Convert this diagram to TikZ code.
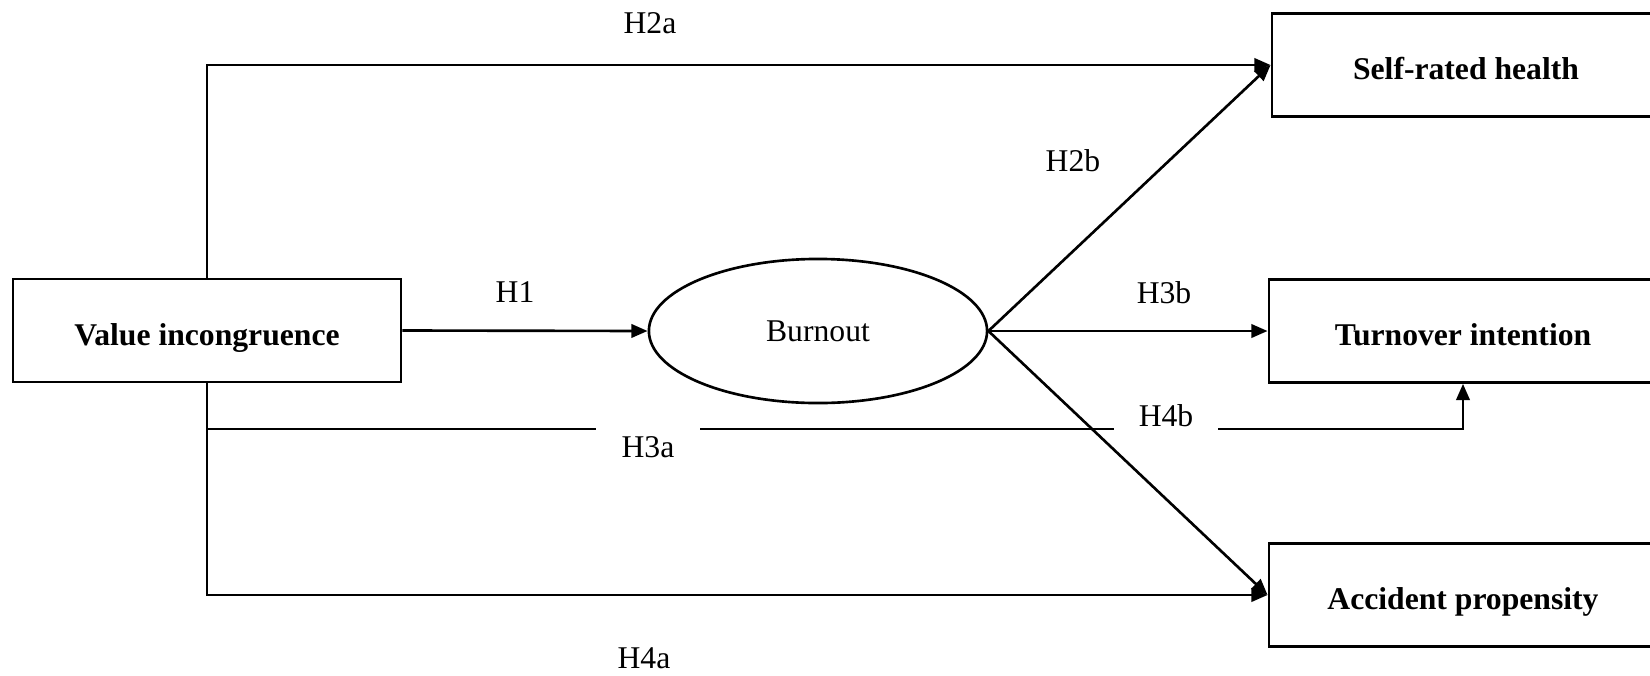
\documentclass[tikz,border=0pt]{standalone}
\usepackage{fontspec}
\setmainfont{Liberation Serif}
\usetikzlibrary{arrows.meta,shapes.geometric}
\begin{document}
\begin{tikzpicture}[x=0.01cm,y=-0.01cm,
  font=\fontsize{9}{11}\selectfont,
  line width=0.75pt,
  var/.style={draw,rectangle,minimum width=3.88cm,minimum height=1.03cm,
    text height=8.4pt,text depth=0pt,font=\fontsize{9}{11}\selectfont\bfseries},
  latent/.style={draw,ellipse,minimum width=3.38cm,minimum height=1.44cm,inner sep=0pt},
  arr/.style={-{Triangle[length=4.6pt,width=3.8pt]}},
  lab/.style={inner sep=0pt},
  masklab/.style={fill=white,inner sep=0pt,minimum width=1.03cm,minimum height=0.46cm}]
\useasboundingbox (0,0) rectangle (1650,675);
\clip (0,0) rectangle (1650,675);

% constructs
\node[var] (vi) at (207,330.5) {Value incongruence};
\node[latent] (bo) at (818,331) {Burnout};
\node[var] (srh) at (1466,65) {Self-rated health};
\node[var] (ti) at (1463,331) {Turnover intention};
\node[var] (ap) at (1463,595) {Accident propensity};
\coordinate (h3row) at (818,429);

% direct paths from value incongruence
\draw[arr] (vi.north) |- (srh.west);
\draw[arr] (vi.south) |- (ap.west);
\draw[arr] (vi.south) |- (h3row) -| (ti.south);
\draw[arr] (vi.east) -- (bo.west);

% labels on the lower bracket line break it
\node[masklab] (h3a) at (648,447) {H3a};
\node[masklab] (h4b) at (1166,416) {H4b};

% paths from burnout
\draw[arr] (bo.east) -- (srh.west);
\draw[arr] (bo.east) -- (ti.west);
\draw[arr] (bo.east) -- (ap.west);

% hypothesis labels
\node[lab] (h1) at (515,292.5) {H1};
\node[lab] (h2a) at (650,23) {H2a};
\node[lab] (h2b) at (1073,161) {H2b};
\node[lab] (h3b) at (1164,292.5) {H3b};
\node[lab] (h4a) at (644,658) {H4a};
\end{tikzpicture}
\end{document}
